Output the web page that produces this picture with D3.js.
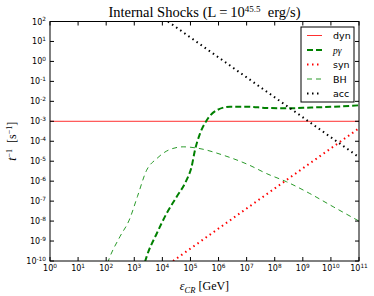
<!DOCTYPE html>
<html>
<head>
<script src="https://d3js.org/d3.v7.min.js"></script>
<style>
  body { margin: 0; background: #fff; }
  text { font-family: "DejaVu Sans", sans-serif; }
  .serif { font-family: "Liberation Serif", "DejaVu Serif", serif; }
</style>
</head>
<body>
<svg id="chart" width="374" height="296"></svg>
<script>
// exponents for tick labels
var xExps = [0,1,2,3,4,5,6,7,8,9,10,11];
var yExps = [-10,-9,-8,-7,-6,-5,-4,-3,-2,-1,0,1,2];

// curves (log10 E [GeV], log10 t^-1 [1/s])
var dynE = [0, 11];
var dynT = [-3, -3];

var accE = [4.2, 11];
var accT = [2, -4.8];

var synE = [4.38, 11];
var synT = [-10, -3.35];

var bhE = [2.05, 2.11, 2.49, 2.82, 3.11, 3.44, 3.8, 4.21, 4.74, 5.34, 6.17, 7.1, 7.71, 8.42, 9.25, 10.08, 11];
var bhT = [-10.1, -9.87, -8.78, -7.95, -6.78, -5.45, -4.87, -4.45, -4.28, -4.37, -4.7, -5.2, -5.62, -6.03, -6.62, -7.28, -8.0];

var pgE = [3.38, 3.44, 3.8, 4.15, 4.51, 4.86, 5.04, 5.16, 5.34, 5.58, 5.93, 6.41, 7.0, 7.71, 8.42, 9.3, 10.08, 11];
var pgT = [-10.05, -9.78, -8.62, -7.62, -6.78, -5.95, -5.28, -4.45, -3.62, -2.95, -2.45, -2.27, -2.27, -2.33, -2.35, -2.31, -2.27, -2.2];

var labels = ["dyn", "pγ", "syn", "BH", "acc"];

var m = {left: 50, right: 359, top: 21.5, bottom: 261};
var svg = d3.select("#chart");

var x = d3.scaleLog().domain([1, 1e11]).range([m.left, m.right]);
var y = d3.scaleLog().domain([1e-10, 1e2]).range([m.bottom, m.top]);

svg.append("clipPath").attr("id", "clip")
  .append("rect").attr("x", m.left).attr("y", m.top)
  .attr("width", m.right - m.left).attr("height", m.bottom - m.top);

function pts(es, ts) {
  return es.map(function(e, i) { return [Math.pow(10, e), Math.pow(10, ts[i])]; });
}

var line = d3.line()
  .x(function(d) { return x(d[0]); })
  .y(function(d) { return y(d[1]); })
  .curve(d3.curveMonotoneX);

var series = [
  {data: pts(dynE, dynT), color: "#ff3030", width: 1, dash: null},
  {data: pts(pgE, pgT), color: "#008000", width: 2, dash: "6,3"},
  {data: pts(synE, synT), color: "#ff0000", width: 2, dash: "1.5,3.5"},
  {data: pts(bhE, bhT), color: "#2a9a2a", width: 1, dash: "5,4"},
  {data: pts(accE, accT), color: "#000000", width: 2, dash: "1.5,3.5"}
];

var g = svg.append("g").attr("clip-path", "url(#clip)");
g.selectAll("path").data(series).enter().append("path")
  .attr("d", function(d) { return line(d.data); })
  .attr("fill", "none")
  .attr("stroke", function(d) { return d.color; })
  .attr("stroke-width", function(d) { return d.width; })
  .attr("stroke-dasharray", function(d) { return d.dash; });

// frame
svg.append("rect").attr("x", m.left).attr("y", m.top)
  .attr("width", m.right - m.left).attr("height", m.bottom - m.top)
  .attr("fill", "none").attr("stroke", "#000").attr("stroke-width", 1);

// ticks inside, all four sides
var xt = xExps.map(function(e) { return Math.pow(10, e); });
var yt = yExps.map(function(e) { return Math.pow(10, e); });
var tl = 4;
svg.append("g").selectAll("line").data(xt).enter().append("line")
  .attr("x1", x).attr("x2", x).attr("y1", m.bottom).attr("y2", m.bottom - tl)
  .attr("stroke", "#000");
svg.append("g").selectAll("line").data(xt).enter().append("line")
  .attr("x1", x).attr("x2", x).attr("y1", m.top).attr("y2", m.top + tl)
  .attr("stroke", "#000");
svg.append("g").selectAll("line").data(yt).enter().append("line")
  .attr("y1", y).attr("y2", y).attr("x1", m.left).attr("x2", m.left + tl)
  .attr("stroke", "#000");
svg.append("g").selectAll("line").data(yt).enter().append("line")
  .attr("y1", y).attr("y2", y).attr("x1", m.right).attr("x2", m.right - tl)
  .attr("stroke", "#000");

// tick labels
function powLabel(sel, e) {
  sel.append("tspan").text("10");
  sel.append("tspan").attr("dy", -3.5).attr("font-size", 5.8).text(e);
}
xExps.forEach(function(e) {
  var t = svg.append("text").attr("x", x(Math.pow(10, e))).attr("y", 271)
    .attr("text-anchor", "middle").attr("font-size", 8);
  powLabel(t, e);
});
yExps.forEach(function(e) {
  var t = svg.append("text").attr("x", 46).attr("y", y(Math.pow(10, e)) + 3)
    .attr("text-anchor", "end").attr("font-size", 8);
  powLabel(t, e);
});

// title
var title = svg.append("text").attr("class", "serif")
  .attr("x", (m.left + m.right) / 2).attr("y", 17)
  .attr("text-anchor", "middle").attr("font-size", 14.5);
title.append("tspan").text("Internal Shocks (L\u2009=\u200910");
title.append("tspan").attr("dy", -5.5).attr("font-size", 9).text("45.5");
title.append("tspan").attr("dy", 5.5).text("\u00a0 erg/s)");

// x label
var xl = svg.append("text").attr("class", "serif")
  .attr("x", (m.left + m.right) / 2).attr("y", 290)
  .attr("text-anchor", "middle").attr("font-size", 12);
xl.append("tspan").attr("font-style", "italic").text("ε");
xl.append("tspan").attr("dy", 2.5).attr("font-size", 8.5).attr("font-style", "italic").text("CR");
xl.append("tspan").attr("dy", -2.5).text(" [GeV]");

// y label
var yl = svg.append("text").attr("class", "serif")
  .attr("transform", "translate(16," + ((m.top + m.bottom) / 2) + ") rotate(-90)")
  .attr("text-anchor", "middle").attr("font-size", 12);
yl.append("tspan").attr("font-style", "italic").text("t");
yl.append("tspan").attr("dy", -4.5).attr("font-size", 8).text("−1");
yl.append("tspan").attr("dy", 4.5).text("\u00a0 [s");
yl.append("tspan").attr("dy", -4.5).attr("font-size", 8).text("−1");
yl.append("tspan").attr("dy", 4.5).text("]");

// legend
var lg = svg.append("g");
lg.append("rect").attr("x", 301).attr("y", 27).attr("width", 53).attr("height", 75)
  .attr("fill", "#fff").attr("stroke", "#000").attr("stroke-width", 1);
series.forEach(function(s, i) {
  var ly = 35.5 + i * 14.5;
  lg.append("line").attr("x1", 307).attr("x2", 322).attr("y1", ly).attr("y2", ly)
    .attr("stroke", s.color).attr("stroke-width", s.width)
    .attr("stroke-dasharray", s.dash);
  var t = lg.append("text").attr("x", 333).attr("y", ly + 3.5).attr("font-size", 9.5)
    .text(labels[i]);
  if (i === 1) t.attr("class", "serif").attr("font-style", "italic");
});
</script>
</body>
</html>
